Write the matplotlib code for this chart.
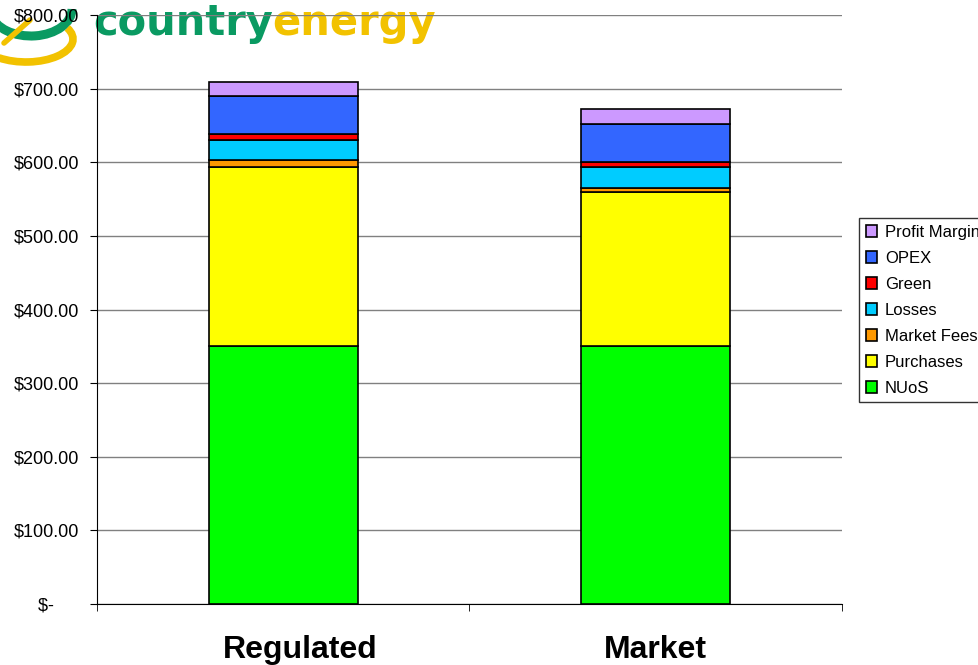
import matplotlib.pyplot as plt
import numpy as np
from matplotlib.patches import Arc
from matplotlib.transforms import ScaledTranslation

plt.rcParams['font.family'] = ['Liberation Sans', 'DejaVu Sans']

# cost components ($) for each offer type
categories = ["Regulated", "Market"]
components = ["NUoS", "Purchases", "Market Fees", "Losses", "Green", "OPEX", "Profit Margin"]
nuos = [350, 350]
purchases = [244, 209]
market_fees = [9, 6]
losses = [27, 28]
green = [8, 8]
opex = [52, 51]
profit_margin = [19, 21]
colors = ["#00FF00", "#FFFF00", "#FF9900", "#00CCFF", "#FF0000", "#3366FF", "#CC99FF"]

series = [nuos, purchases, market_fees, losses, green, opex, profit_margin]

fig = plt.figure(figsize=(9.79, 6.65), dpi=100)

# company logo across the top left, behind the chart
lax = fig.add_axes([0, 0, 1, 1], zorder=0)
lax.set_xlim(0, 979)
lax.set_ylim(0, 665)
lax.axis("off")
lax.add_patch(Arc((31, 656), 82, 54, theta1=188, theta2=360, color="#0A9A62", lw=6.5))
lax.add_patch(Arc((26, 626), 94, 46, theta1=215, theta2=15, color="#F2C200", lw=5.5))
lax.plot([4, 30], [622, 645], color="#F2C200", lw=4, solid_capstyle="round")
t1 = lax.text(93, 630, "country", color="#0A9A62", fontsize=30, fontweight="heavy",
              family="DejaVu Sans", va="baseline")
fig.canvas.draw()
bb = t1.get_window_extent()
lax.text(bb.x1 - 1, 630, "energy", color="#F2C200", fontsize=30, fontweight="heavy",
         family="DejaVu Sans", va="baseline")

ax = fig.add_axes([97/979, 1-604/665, 745/979, 589/665], zorder=1)
ax.set_facecolor("none")

x = np.arange(len(categories))
bottom = np.zeros(len(categories))
handles = []
for vals, name, col in zip(series, components, colors):
    b = ax.bar(x, vals, width=0.4, bottom=bottom, color=col, edgecolor="black",
               linewidth=1.2, label=name, zorder=3)
    handles.append(b)
    bottom += np.array(vals)

ax.set_xlim(-0.5, 1.5)
ax.set_ylim(0, 800)
ax.set_yticks(np.arange(0, 801, 100))
ax.set_yticklabels(["$-     "] + [f"${v:.2f}" for v in range(100, 801, 100)], fontsize=13)
ax.yaxis.grid(True, color="#808080", linewidth=1, zorder=0)
ax.set_xticks(x)
ax.set_xticklabels(categories, fontsize=23, fontweight="bold")
ax.set_xticks([-0.5, 0.5, 1.5], minor=True)
ax.tick_params(axis="x", which="major", length=0, pad=22)
ax.tick_params(axis="x", which="minor", length=5, direction="out")
ax.tick_params(axis="y", length=5, direction="out", pad=8)
for s in ["top", "right"]:
    ax.spines[s].set_visible(False)
ax.spines["left"].set_color("black")
ax.spines["bottom"].set_color("black")

# first category label sits a little right of its bar
lbl = ax.get_xticklabels()[0]
lbl.set_transform(lbl.get_transform() + ScaledTranslation(0.17, 0, fig.dpi_scale_trans))

leg = fig.legend(handles[::-1], components[::-1], loc="upper left",
                 bbox_to_anchor=(859/979, 1-218/665), borderaxespad=0,
                 fontsize=12, frameon=True, fancybox=False, edgecolor="black",
                 handlelength=0.7, handleheight=0.7, handletextpad=0.45,
                 labelspacing=0.66, borderpad=0.4)
leg.get_frame().set_linewidth(1)

fig.savefig("out.png", dpi=100)
